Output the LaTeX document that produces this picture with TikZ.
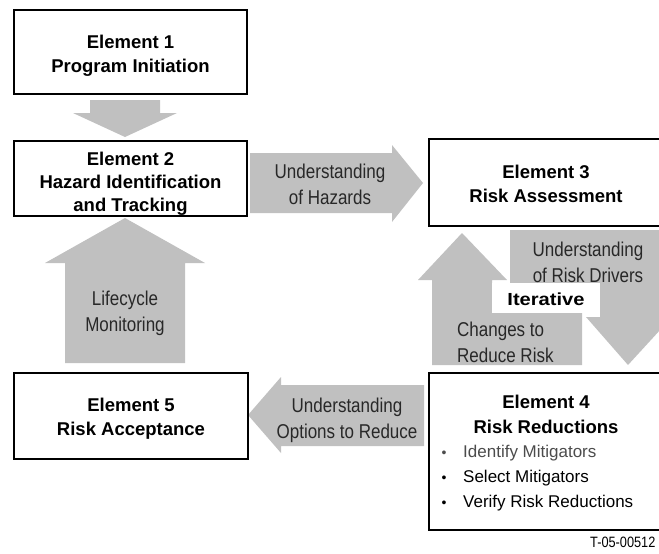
\documentclass[tikz,border=0pt]{standalone}
\usepackage{fontspec}
\setmainfont{Liberation Sans}
\newfontfamily\widefont[FakeStretch=1.15]{Liberation Sans}
\newfontfamily\narrowfont[FakeStretch=0.85]{Liberation Sans}
\definecolor{arrowgray}{RGB}{192,192,192}
\definecolor{labeltext}{RGB}{40,40,40}
\begin{document}
\begin{tikzpicture}[x=1pt,y=-1pt,
  box/.style={draw=black,line width=1.6pt,fill=white,inner sep=0pt},
  boxtext/.style={align=center,font=\bfseries\fontsize{18.5}{24.5}\selectfont,inner sep=0pt},
  lbl/.style={align=center,font=\narrowfont\fontsize{20}{26}\selectfont,text=labeltext,inner sep=0pt},
  bul/.style={anchor=base west,inner sep=0pt,font=\fontsize{17}{20}\selectfont},
  dot/.style={anchor=base,inner sep=0pt,font=\fontsize{14}{16}\selectfont},
  blockarrow/.style={fill=arrowgray,draw=none}]
\useasboundingbox (0,0) rectangle (659,554);
\clip (0,0) rectangle (659,554);

% block arrows
\fill[blockarrow] (90,100) -- (160,100) -- (160,113) -- (177,113) -- (125,137) -- (73,113) -- (90,113) -- cycle;
\fill[blockarrow] (250,153) -- (392,153) -- (392,145) -- (423,183) -- (392,222) -- (392,213) -- (250,213) -- cycle;
\fill[blockarrow] (65,363) -- (65,263) -- (45,263) -- (125,218) -- (205,263) -- (185,263) -- (185,363) -- cycle;
\fill[blockarrow] (424,385) -- (281,385) -- (281,377) -- (248,415) -- (281,453) -- (281,446) -- (424,446) -- cycle;
% iterative up arrow
\fill[blockarrow] (432,365) -- (432,280) -- (418,280) -- (462,233) -- (507,280) -- (492,280) -- (492,313) -- (582,313) -- (582,365) -- cycle;
% iterative down arrow
\fill[blockarrow] (510,230) -- (665,230) -- (665,317) -- (672,317) -- (628,365) -- (586,317) -- (600,317) -- (600,283) -- (510,283) -- cycle;

% iterative label
\node[fill=white,minimum width=108pt,minimum height=30pt,inner sep=0pt] (iter) at (546,298) {};
\node[font=\widefont\bfseries\fontsize{17.5}{20}\selectfont,anchor=base,inner sep=0pt] (itertext) at (546,305) {Iterative};

% boxes
\node[box,minimum width=233pt,minimum height=84pt] (e1) at (130.5,52) {};
\node[boxtext] (e1t) at (130.5,56) {Element 1\\Program Initiation};
\node[box,minimum width=233pt,minimum height=75pt] (e2) at (130.5,178.5) {};
\node[boxtext,font=\bfseries\fontsize{18.5}{23}\selectfont] (e2t) at (130.5,184) {Element 2\\Hazard Identification\\and Tracking};
\node[box,minimum width=236pt,minimum height=87pt] (e3) at (547,182.5) {};
\node[boxtext] (e3t) at (546,184) {Element 3\\Risk Assessment};
\node[box,minimum width=234pt,minimum height=86pt] (e5) at (131,416) {};
\node[boxtext] (e5t) at (131,418.5) {Element 5\\Risk Acceptance};
\node[box,minimum width=236pt,minimum height=157pt] (e4) at (547,451.5) {};
\node[boxtext] (e4t) at (546,414.5) {Element 4\\Risk Reductions};

% element 4 bullets
\node[dot,text=black!70] (d1) at (444,457) {\textbullet};
\node[bul,text=black!70] (b1) at (463,457) {Identify Mitigators};
\node[dot] (d2) at (444,482) {\textbullet};
\node[bul] (b2) at (463,482) {Select Mitigators};
\node[dot] (d3) at (444,507) {\textbullet};
\node[bul] (b3) at (463,507) {Verify Risk Reductions};

% arrow labels
\node[lbl] (l1) at (330,184) {Understanding\\of Hazards};
\node[lbl] (l2) at (125,313) {Lifecycle\\Monitoring};
\node[lbl] (l3) at (347,420) {Understanding\\Options to Reduce};
\node[lbl] (l4) at (588,262) {Understanding\\of Risk Drivers};
\node[lbl,align=left,anchor=west] (l5) at (457,342) {Changes to\\Reduce Risk};

\node[anchor=base west,inner sep=0pt,font=\narrowfont\fontsize{15}{17}\selectfont] (tag) at (590,547) {T-05-00512};
\end{tikzpicture}
\end{document}
